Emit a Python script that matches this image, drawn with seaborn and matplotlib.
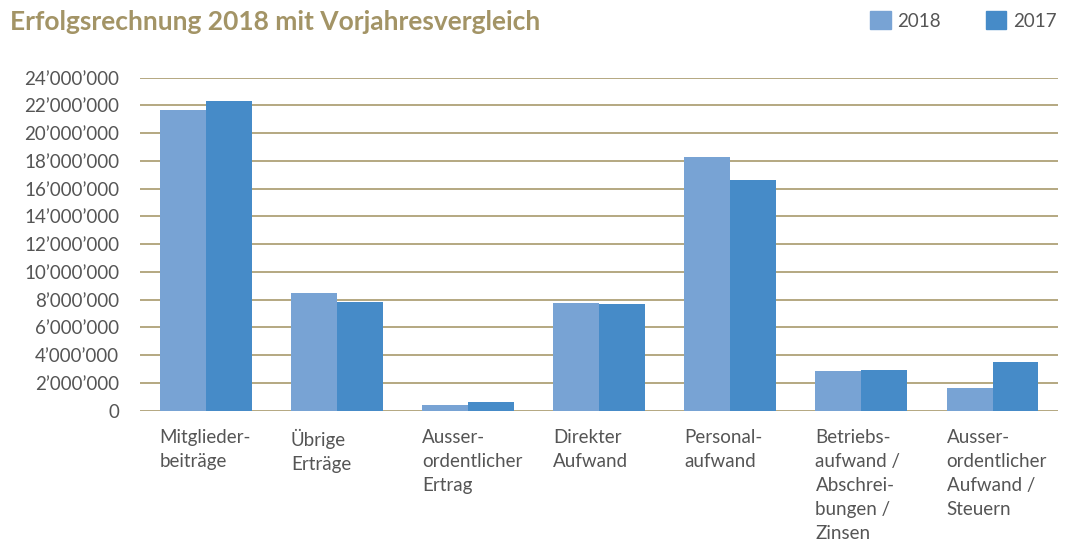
import pandas as pd
import seaborn as sns
import matplotlib.pyplot as plt
from matplotlib.ticker import FuncFormatter

# Data
categories = ["Mitglieder-\nbeiträge", "Übrige\nErträge", "Ausser-\nordentlicher\nErtrag",
              "Direkter\nAufwand", "Personal-\naufwand",
              "Betriebs-\naufwand /\nAbschrei-\nbungen /\nZinsen",
              "Ausser-\nordentlicher\nAufwand /\nSteuern"]
values_2018 = [21650000, 8470000, 400000, 7750000, 18270000, 2850000, 1620000]
values_2017 = [22300000, 7820000, 610000, 7670000, 16610000, 2920000, 3500000]
years = ["2018", "2017"]

df = pd.DataFrame({
    "cat": categories * 2,
    "year": [years[0]] * 7 + [years[1]] * 7,
    "amount": values_2018 + values_2017,
})

sns.set_style("white")
plt.rcParams["font.family"] = ["Lato", "DejaVu Sans"]

gold = "#a89a6c"
grey = "#555555"
palette = {"2018": "#78a3d4", "2017": "#468bc8"}

fig = plt.figure(figsize=(10.65, 5.42), dpi=100)
ax = fig.add_axes([0.1315, 0.2426, 0.862, 0.6144])

sns.barplot(data=df, x="cat", y="amount", hue="year", palette=palette,
            width=0.7, saturation=1, ax=ax, legend=False, linewidth=0, zorder=3)

ax.set_ylim(0, 24000000)
ax.set_xlim(-0.5, 6.5)
ax.set_yticks(range(0, 24000001, 2000000))
ax.yaxis.set_major_formatter(FuncFormatter(lambda v, p: f"{int(v):,}".replace(",", "’")))
ax.grid(axis="y", color=gold, linewidth=1.2, zorder=0)
ax.set_axisbelow(True)
for s in ax.spines.values():
    s.set_visible(False)
ax.tick_params(axis="y", length=0, pad=15, labelsize=13.5, labelcolor=grey)
ax.set_xlabel("")
ax.set_ylabel("")

# left-aligned category labels under each group
ax.set_xticks(range(len(categories)))
ax.set_xticklabels([])
ax.tick_params(axis="x", length=0)
for i, lab in enumerate(categories):
    ax.text(i - 0.35, -0.055, lab, transform=ax.get_xaxis_transform(),
            ha="left", va="top", fontsize=13.5, color=grey, linespacing=1.5)

fig.text(0.009, 0.96, "Erfolgsrechnung 2018 mit Vorjahresvergleich",
         fontsize=19, fontweight="bold", color="#a39466", va="center", ha="left")

handles = [plt.Rectangle((0, 0), 1, 1, color=palette[y]) for y in years]
fig.legend(handles, years, loc="center right", bbox_to_anchor=(1.008, 0.962), ncol=2,
           frameon=False, fontsize=13.5, handlelength=1.1, handleheight=1.1,
           columnspacing=2.4, handletextpad=0.35, labelcolor=grey)

fig.savefig("out.png", dpi=100)
